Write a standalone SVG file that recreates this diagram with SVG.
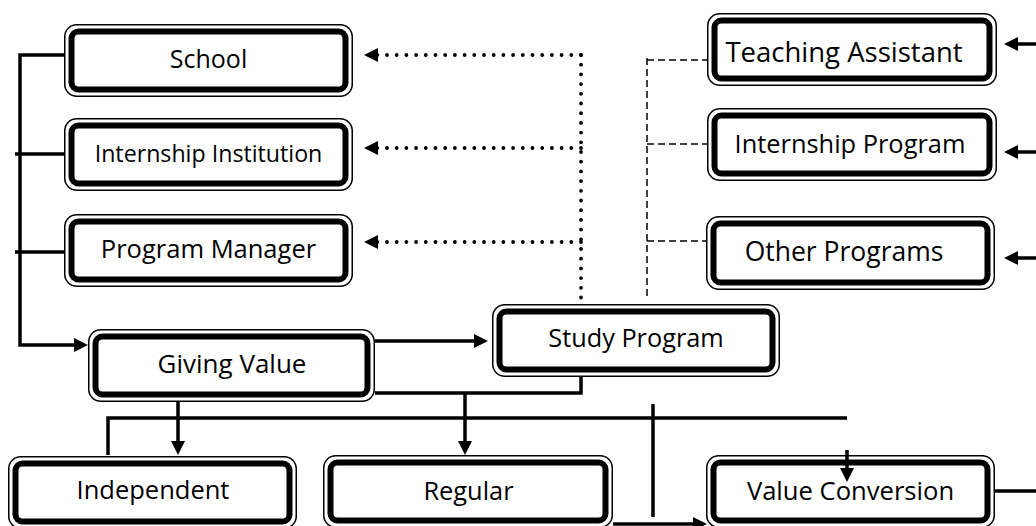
<svg xmlns="http://www.w3.org/2000/svg" width="1036" height="526" viewBox="0 0 1036 526">
<style>
.o{fill:#fff;stroke:#000;stroke-width:1.5}
.i{fill:none;stroke:#000;stroke-width:6}
.t{font-family:"Open Sans",sans-serif;text-anchor:middle;fill:#000}
.s{fill:none;stroke:#000;stroke-width:3.5}
.d{fill:none;stroke:#000;stroke-width:3.8;stroke-linecap:round;stroke-dasharray:0 9.7}
.h{fill:none;stroke:#000;stroke-width:1.5;stroke-dasharray:7 4}
</style>
<defs>
<marker id="ah" viewBox="0 0 14 14" refX="1" refY="7" markerWidth="14" markerHeight="14" markerUnits="userSpaceOnUse" orient="auto"><path d="M0,0 L14,7 L0,14 Z" fill="#000"/></marker>
</defs>
<rect width="1036" height="526" fill="#fff"/>
<g id="school"><rect class="o" x="64.75" y="24.75" width="287.5" height="71.5" rx="12"/><rect class="i" x="71.5" y="31.5" width="274" height="58" rx="7"/><text class="t" x="208.5" y="68" font-size="25">School</text></g>
<g id="internship-institution"><rect class="o" x="64.75" y="118.75" width="287.5" height="71.5" rx="12"/><rect class="i" x="71.5" y="125.5" width="274" height="58" rx="7"/><text class="t" x="208.5" y="162" font-size="23.2">Internship Institution</text></g>
<g id="program-manager"><rect class="o" x="64.75" y="214.75" width="287.5" height="71.5" rx="12"/><rect class="i" x="71.5" y="221.5" width="274" height="58" rx="7"/><text class="t" x="208.5" y="258" font-size="25.5">Program Manager</text></g>
<g id="giving-value"><rect class="o" x="88.75" y="329.75" width="285.5" height="71.5" rx="12"/><rect class="i" x="95.5" y="336.5" width="272" height="58" rx="7"/><text class="t" x="232" y="373" font-size="26">Giving Value</text></g>
<g id="study-program"><rect class="o" x="492.75" y="304.75" width="286.5" height="71.5" rx="12"/><rect class="i" x="499.5" y="311.5" width="273" height="58" rx="7"/><text class="t" x="636" y="347" font-size="25.3">Study Program</text></g>
<g id="teaching-assistant"><rect class="o" x="707.75" y="13.75" width="288.5" height="71.5" rx="12"/><rect class="i" x="714.5" y="20.5" width="275" height="58" rx="7"/><text class="t" x="844" y="62" font-size="27.5">Teaching Assistant</text></g>
<g id="internship-program"><rect class="o" x="707.75" y="108.75" width="288.5" height="71.5" rx="12"/><rect class="i" x="714.5" y="115.5" width="275" height="58" rx="7"/><text class="t" x="850" y="153" font-size="25.4">Internship Program</text></g>
<g id="other-programs"><rect class="o" x="706.75" y="216.75" width="287.5" height="72.5" rx="12"/><rect class="i" x="713.5" y="223.5" width="274" height="59" rx="7"/><text class="t" x="844" y="261" font-size="26.5">Other Programs</text></g>
<g id="independent"><rect class="o" x="8.75" y="456.75" width="287.5" height="71.5" rx="12"/><rect class="i" x="15.5" y="463.5" width="274" height="58" rx="7"/><text class="t" x="153" y="499" font-size="25.5">Independent</text></g>
<g id="regular"><rect class="o" x="323.75" y="455.75" width="288.5" height="71.5" rx="12"/><rect class="i" x="330.5" y="462.5" width="275" height="58" rx="7"/><text class="t" x="468.5" y="500" font-size="25.4">Regular</text></g>
<g id="value-conversion"><rect class="o" x="706.75" y="455.75" width="287.5" height="71.5" rx="12"/><rect class="i" x="713.5" y="462.5" width="274" height="58" rx="7"/><text class="t" x="850.5" y="500" font-size="25.6">Value Conversion</text></g>
<g id="connectors">
<path class="s" d="M64,55 H20 V345 H75" marker-end="url(#ah)"/>
<path class="s" d="M15,154 H64"/>
<path class="s" d="M15,252 H64"/>
<path class="s" d="M375,341 H475" marker-end="url(#ah)"/>
<path class="s" d="M581,377 V393 H375"/>
<path class="s" d="M465,393 V442" marker-end="url(#ah)"/>
<path class="s" d="M178,401 V442" marker-end="url(#ah)"/>
<path class="s" d="M108,455 V418 H847"/>
<path class="s" d="M653,404 V517"/>
<path class="s" d="M613,524 H694" marker-end="url(#ah)"/>
<path class="s" d="M847,450 V469" marker-end="url(#ah)"/>
<path class="s" d="M995,491 H1036"/>
<path class="s" d="M1036,44 H1017" marker-end="url(#ah)"/>
<path class="s" d="M1036,152 H1017" marker-end="url(#ah)"/>
<path class="s" d="M1036,258 H1017" marker-end="url(#ah)"/>
<path class="d" d="M581,55 V300"/>
<path class="d" d="M581,55 H377" marker-end="url(#ah)"/>
<path class="d" d="M581,148 H377" marker-end="url(#ah)"/>
<path class="d" d="M581,242 H377" marker-end="url(#ah)"/>
<path class="h" d="M647,58 V297"/>
<path class="h" d="M647,60 H707"/>
<path class="h" d="M647,144 H707"/>
<path class="h" d="M647,241 H706"/>
</g>
</svg>
